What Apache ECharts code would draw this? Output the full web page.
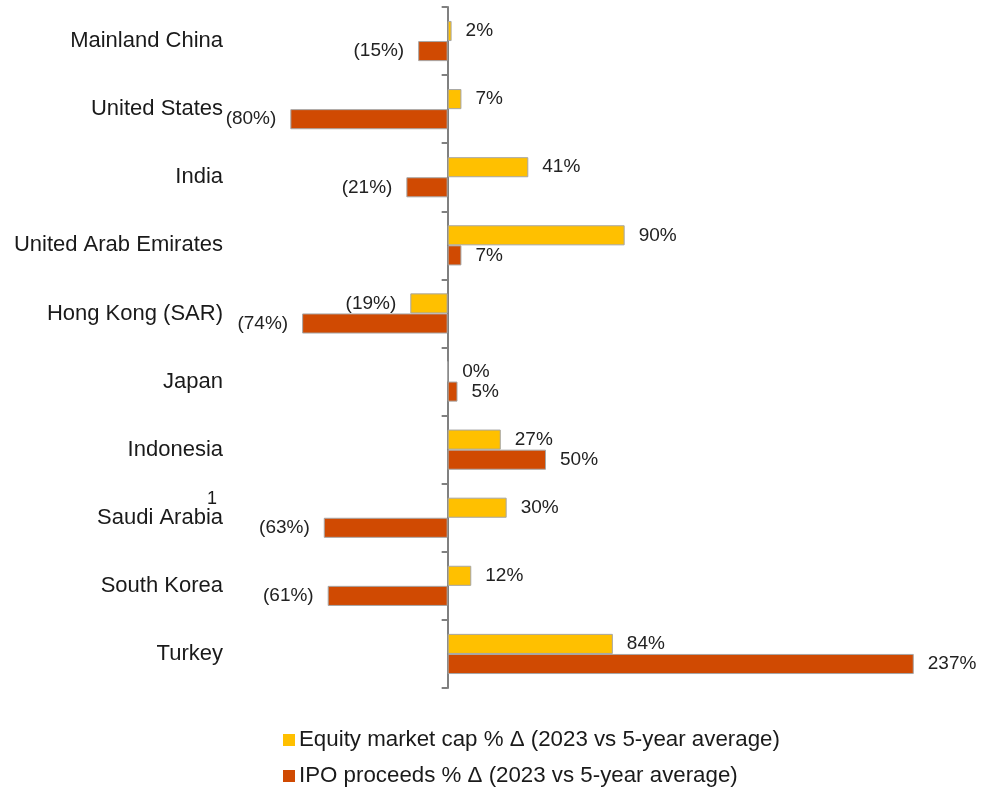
<!DOCTYPE html>
<html>
<head>
<meta charset="utf-8">
<script src="https://cdn.jsdelivr.net/npm/echarts@6/dist/echarts.min.js"></script>
<style>
html,body{margin:0;padding:0;background:#fff;}
#chart{width:982px;height:787px;}
</style>
</head>
<body>
<div id="chart"></div>
<script>
const categories = ['Mainland China','United States','India','United Arab Emirates','Hong Kong (SAR)','Japan','Indonesia','Saudi Arabia','South Korea','Turkey'];
const equityCap = [2, 7, 41, 90, -19, 0, 27, 30, 12, 84];
const ipoProceeds = [-15, -80, -21, 7, -74, 5, 50, -63, -61, 237];
const seriesNames = ['Equity market cap % Δ (2023 vs 5-year average)', 'IPO proceeds % Δ (2023 vs 5-year average)'];
const footnoted = {'Saudi Arabia': '1'};

const FONT = '"Liberation Sans", Arial, sans-serif';
const fmt = v => v < 0 ? '(' + Math.abs(v) + '%)' : v + '%';

const chart = echarts.init(document.getElementById('chart'));
const barLabel = {
  show: true, position: 'outside', distance: 14,
  fontFamily: FONT, fontSize: 19, color: '#222',
  formatter: p => fmt(p.value)
};
const legendBase = {
  orient: 'vertical', left: 283, padding: 0,
  itemWidth: 12, itemHeight: 12, icon: 'rect', itemGap: 10,
  itemStyle: {borderWidth: 0},
  textStyle: {fontFamily: FONT, fontSize: 22.3, color: '#1a1a1a', padding: [0, 0, 0, -1]}
};
chart.setOption({
  animation: false,
  backgroundColor: '#fff',
  textStyle: {fontFamily: FONT},
  grid: {left: 251, right: 23, top: 7, bottom: 99, containLabel: false},
  xAxis: {
    type: 'value', min: -100, max: 260,
    axisLine: {show: false}, axisTick: {show: false},
    axisLabel: {show: false}, splitLine: {show: false}
  },
  yAxis: [{
    type: 'category', data: categories, inverse: true, position: 'left',
    axisLine: {show: false, onZero: false}, axisTick: {show: false},
    axisLabel: {
      margin: 28, fontFamily: FONT, fontSize: 22, color: '#1a1a1a',
      formatter: v => footnoted[v] ? '{sup|' + footnoted[v] + '}\n{n|' + v + '}\n{sup| }' : v,
      rich: {
        sup: {fontFamily: FONT, fontSize: 18, lineHeight: 12, color: '#1a1a1a', padding: [0, 6, 0, 0]},
        n: {fontFamily: FONT, fontSize: 22, lineHeight: 26, color: '#1a1a1a'}
      }
    }
  }, {
    type: 'category', data: categories, inverse: true, position: 'left',
    axisLine: {show: true, onZero: true, lineStyle: {color: '#808080', width: 2}},
    axisTick: {show: true, length: 6, lineStyle: {color: '#808080', width: 2}},
    axisLabel: {show: false}
  }],
  legend: [
    Object.assign({}, legendBase, {top: 729, data: [seriesNames[0]]}),
    Object.assign({}, legendBase, {top: 765, data: [seriesNames[1]]})
  ],
  series: [{
    name: seriesNames[0], type: 'bar', yAxisIndex: 0,
    data: equityCap, barCategoryGap: '41%', barGap: '0%',
    itemStyle: {color: '#FFC000', borderColor: '#A6A6A6', borderWidth: 1},
    label: barLabel
  }, {
    name: seriesNames[1], type: 'bar', yAxisIndex: 0,
    data: ipoProceeds, barCategoryGap: '41%', barGap: '0%',
    itemStyle: {color: '#D04A02', borderColor: '#A6A6A6', borderWidth: 1},
    label: barLabel
  }]
});
</script>
</body>
</html>
